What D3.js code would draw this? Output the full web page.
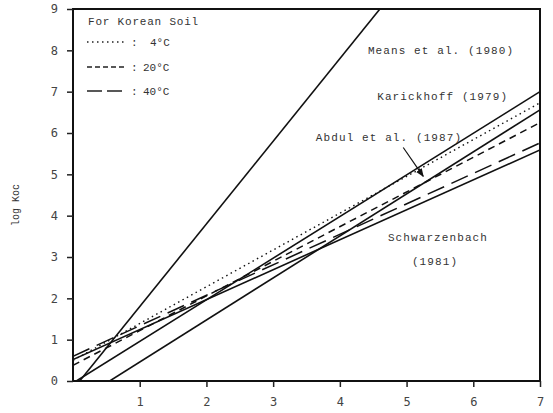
<!DOCTYPE html>
<html lang="en">
<head>
<meta charset="UTF-8">
<title>log Koc correlations</title>
<script src="https://cdn.jsdelivr.net/npm/d3@7"></script>
<style>
    html, body { margin: 0; padding: 0; background: #fff; }
    svg { display: block; }
    .tw { font-family: "Liberation Mono", "DejaVu Sans Mono", monospace; fill: #333; }
</style>
</head>
<body>
<svg id="chart" width="553" height="413"></svg>
<script>
    // tick values
    const xTicks = [1, 2, 3, 4, 5, 6, 7];
    const yTicks = [0, 1, 2, 3, 4, 5, 6, 7, 8, 9];

    // reference correlations (end points)
    const meansLine = [[0.1, 0], [4.6, 9]];
    const karickhoffLine = [[0.05, 0], [7, 7.0]];
    const abdulLine = [[0.55, 0], [7, 6.56]];
    const schwarzLine = [[0, 0.52], [7, 5.59]];

    // Korean soil lines
    const soil4C = [[0, 0.5], [7, 6.73]];
    const soil20C = [[0, 0.38], [7, 6.25]];
    const soil40C = [[0, 0.6], [7, 5.76]];

    const legendNames = ["4°C", "20°C", "40°C"];
    const refNames = ["Means et al. (1980)", "Karickhoff (1979)", "Abdul et al. (1987)", "Schwarzenbach", "(1981)"];

    const svg = d3.select('#chart');

    const x = d3.scaleLinear().domain([0, 7]).range([73, 540]);
    const y = d3.scaleLinear().domain([0, 9]).range([381, 9]);

    const line = d3.line().x(d => x(d[0])).y(d => y(d[1]));

    // frame
    svg.append('rect')
        .attr('x', x(0)).attr('y', y(9))
        .attr('width', x(7) - x(0)).attr('height', y(0) - y(9))
        .attr('fill', 'none').attr('stroke', '#111').attr('stroke-width', 2);

    // axes
    const xAxis = svg.append('g')
        .attr('transform', `translate(0,${y(0)})`)
        .call(d3.axisBottom(x).tickValues(xTicks).tickFormat(d3.format('d')).tickSize(6).tickPadding(10));
    const yAxis = svg.append('g')
        .attr('transform', `translate(${x(0)},0)`)
        .call(d3.axisLeft(y).tickValues(yTicks).tickFormat(d3.format('d')).tickSize(6).tickPadding(9));

    [xAxis, yAxis].forEach(g => {
        g.select('.domain').remove();
        g.selectAll('line').attr('stroke', '#222').attr('stroke-width', 1.5);
        g.selectAll('text')
            .attr('font-family', '"DejaVu Sans Mono", monospace')
            .attr('font-size', 12)
            .attr('fill', '#444');
    });

    // y axis title
    svg.append('text')
        .attr('class', 'tw')
        .attr('transform', 'translate(19,205) rotate(-90)')
        .attr('text-anchor', 'middle')
        .attr('font-size', 10)
        .attr('fill', '#666')
        .text('log Koc');

    // clip lines to the plot area
    svg.append('clipPath').attr('id', 'plot')
        .append('rect')
        .attr('x', x(0)).attr('y', y(9))
        .attr('width', x(7) - x(0)).attr('height', y(0) - y(9));

    const plot = svg.append('g').attr('clip-path', 'url(#plot)');

    const solidLines = [meansLine, karickhoffLine, abdulLine, schwarzLine];
    solidLines.forEach(d => {
        plot.append('path').datum(d)
            .attr('d', line)
            .attr('fill', 'none')
            .attr('stroke', '#111')
            .attr('stroke-width', 1.6);
    });

    const soilLines = [
        { data: soil4C, dash: '1.5,3.5', width: 1.4 },
        { data: soil20C, dash: '7,5', width: 1.5 },
        { data: soil40C, dash: '18,8', width: 1.5 }
    ];
    soilLines.forEach(s => {
        plot.append('path').datum(s.data)
            .attr('d', line)
            .attr('fill', 'none')
            .attr('stroke', '#111')
            .attr('stroke-width', s.width)
            .attr('stroke-dasharray', s.dash);
    });

    // legend
    const legend = svg.append('g');
    legend.append('text').attr('class', 'tw')
        .attr('x', 88).attr('y', 25)
        .attr('font-size', 11).attr('letter-spacing', 0.8)
        .text('For Korean Soil');

    const rowY = [42, 67, 91];
    const labelX = [150, 143, 143];
    soilLines.forEach((s, i) => {
        legend.append('line')
            .attr('x1', 87).attr('x2', 127)
            .attr('y1', rowY[i]).attr('y2', rowY[i])
            .attr('stroke', '#222')
            .attr('stroke-width', s.width)
            .attr('stroke-dasharray', i === 2 ? '15,5' : (i === 1 ? '5,3' : s.dash));
        legend.append('text').attr('class', 'tw')
            .attr('x', 131).attr('y', rowY[i] + 4)
            .attr('font-size', 11)
            .text(':');
        legend.append('text').attr('class', 'tw')
            .attr('x', labelX[i]).attr('y', rowY[i] + 4)
            .attr('font-size', 11)
            .text(legendNames[i]);
    });

    // reference labels (anchored in data units)
    const refPos = [[4.42, 7.92], [4.56, 6.8], [3.64, 5.81], [4.72, 3.39], [5.08, 2.8]];
    refNames.forEach((t, i) => {
        svg.append('text').attr('class', 'tw')
            .attr('x', x(refPos[i][0])).attr('y', y(refPos[i][1]))
            .attr('font-size', 11).attr('letter-spacing', 1.1)
            .text(t);
    });

    // arrow from Abdul label down to its line
    svg.append('defs').append('marker')
        .attr('id', 'head').attr('viewBox', '0 0 10 10')
        .attr('refX', 9).attr('refY', 5)
        .attr('markerWidth', 7).attr('markerHeight', 7)
        .attr('orient', 'auto')
        .append('path').attr('d', 'M0,1 L10,5 L0,9 Z').attr('fill', '#111');

    svg.append('line')
        .attr('x1', x(4.95)).attr('y1', y(5.65))
        .attr('x2', x(5.25)).attr('y2', y(4.95))
        .attr('stroke', '#111').attr('stroke-width', 1.2)
        .attr('marker-end', 'url(#head)');
</script>
</body>
</html>
